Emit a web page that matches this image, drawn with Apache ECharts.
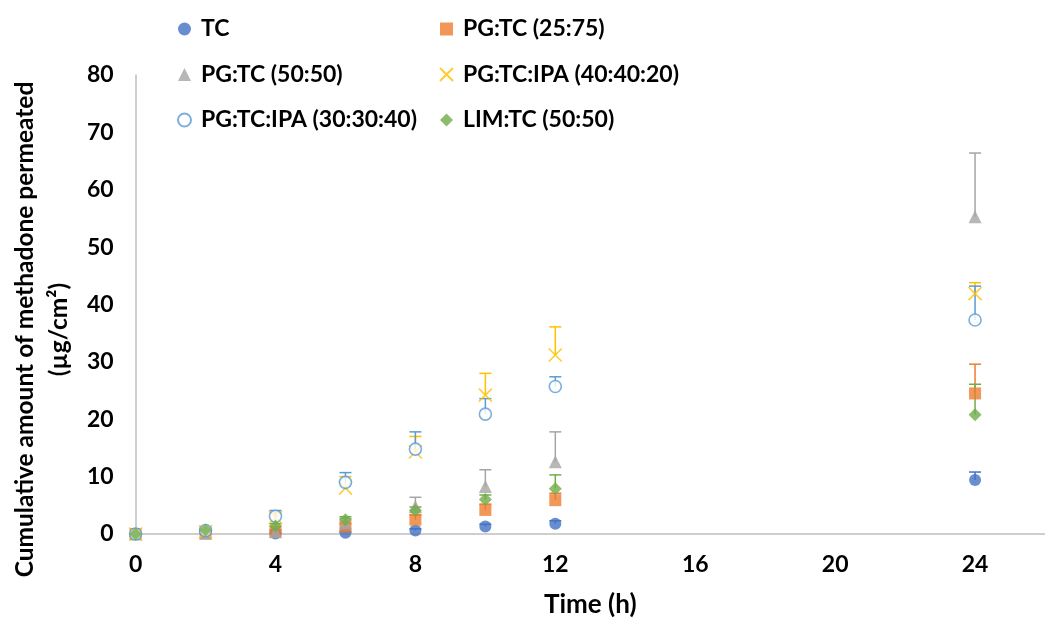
<!DOCTYPE html>
<html>
<head>
<meta charset="utf-8">
<title>Cumulative methadone permeation</title>
<script src="https://cdn.jsdelivr.net/npm/echarts@6/dist/echarts.min.js"></script>
<style>
  html, body { margin: 0; padding: 0; background: #fff; }
  #chart { width: 1045px; height: 623px; }
</style>
</head>
<body>
<div id="chart"></div>
<script>
// Sampling times (h)
const times = [0, 2, 4, 6, 8, 10, 12, 24];
const xTicks = [0, 4, 8, 12, 16, 20, 24];

// Formulation names
const names = [
  'TC',
  'PG:TC (25:75)',
  'PG:TC (50:50)',
  'PG:TC:IPA (40:40:20)',
  'PG:TC:IPA (30:30:40)',
  'LIM:TC (50:50)'
];

// Mean cumulative amount permeated (µg/cm²)
const tc        = [0, 0.3, 0.1, 0.2, 0.6, 1.3, 1.8, 9.4];
const pgTc2575  = [0, 0.2, 0.4, 1.3, 2.5, 4.2, 5.9, 24.5];
const pgTc5050  = [0, 0.1, 0.4, 1.9, 4.8, 8.3, 12.6, 55.3];
const ipa404020 = [0, 0.4, 2.9, 8.0, 14.3, 24.2, 31.2, 41.9];
const ipa303040 = [0, 0.6, 3.1, 9.0, 14.8, 20.9, 25.7, 37.3];
const limTc     = [0, 0.7, 1.4, 2.5, 4.1, 6.0, 7.9, 20.8];

// Standard deviations (upper error bars)
const tcErr        = [0, 0.1, 0.1, 0.2, 0.3, 0.4, 0.5, 1.4];
const pgTc2575Err  = [0, 0.1, 0.2, 0.5, 0.8, 1.0, 1.2, 5.1];
const pgTc5050Err  = [0, 0.1, 0.3, 0.8, 1.6, 2.9, 5.2, 11.1];
const ipa404020Err = [0, 0.2, 0.8, 2.0, 2.7, 3.8, 4.9, 1.9];
const ipa303040Err = [0, 0.2, 1.0, 1.7, 3.0, 2.7, 1.7, 5.9];
const limTcErr     = [0, 0.1, 0.4, 0.5, 0.6, 0.8, 2.4, 5.3];

const colors = ['#4472C4', '#ED7D31', '#A5A5A5', '#FFC000', '#5B9BD5', '#70AD47'];
const means = [tc, pgTc2575, pgTc5050, ipa404020, ipa303040, limTc];
const errs = [tcErr, pgTc2575Err, pgTc5050Err, ipa404020Err, ipa303040Err, limTcErr];

const crossPath = 'path://M0,0L10,10M10,0L0,10';
const symbols = ['circle', 'rect', 'triangle', crossPath, 'circle', 'diamond'];
const sizes = [12, 12, 13, 13, 12, 13];

const FONT = 'Lato, "Open Sans", sans-serif';

function markerStyle(i) {
  if (i === 3) return { color: 'rgba(0,0,0,0)', borderColor: colors[i], borderWidth: 1.6 };
  if (i === 4) return { color: '#ffffff', borderColor: colors[i], borderWidth: 1.6 };
  return { color: colors[i] };
}

function errorBars(i) {
  const color = colors[i];
  return {
    type: 'custom',
    name: names[i] + ' SD',
    silent: true,
    z: 3,
    data: times.map((t, k) => [t, means[i][k], means[i][k] + errs[i][k]]),
    encode: { x: 0, y: [1, 2] },
    renderItem: function (params, api) {
      const lo = api.value(1), hi = api.value(2);
      if (hi - lo <= 0) return null;
      const p0 = api.coord([api.value(0), lo]);
      const p1 = api.coord([api.value(0), hi]);
      const hw = 6;
      const style = { stroke: color, lineWidth: 1.5 };
      return {
        type: 'group',
        children: [
          { type: 'line', shape: { x1: p0[0], y1: p0[1], x2: p1[0], y2: p1[1] }, style: style },
          { type: 'line', shape: { x1: p1[0] - hw, y1: p1[1], x2: p1[0] + hw, y2: p1[1] }, style: style }
        ]
      };
    }
  };
}

const scatterSeries = names.map((n, i) => ({
  type: 'scatter',
  name: n,
  symbol: symbols[i],
  symbolSize: sizes[i],
  itemStyle: markerStyle(i),
  z: 4,
  data: times.map((t, k) => [t, means[i][k]])
}));

const errorSeries = names.map((n, i) => errorBars(i));

const legendText = { fontFamily: FONT, fontWeight: 'bold', fontSize: 23, color: '#000', padding: [0, 0, 0, 5], lineHeight: 26 };

const option = {
  backgroundColor: '#fff',
  animation: false,
  legend: [
    {
      orient: 'vertical', left: 172, top: 11, itemGap: 19.5,
      itemWidth: 13, itemHeight: 13, textStyle: legendText,
      data: [names[0], names[2], names[4]]
    },
    {
      orient: 'vertical', left: 434, top: 11, itemGap: 19.5,
      itemWidth: 13, itemHeight: 13, textStyle: legendText,
      data: [names[1], names[3], names[5]]
    }
  ],
  grid: { left: 129, right: -11, top: 75, bottom: 87, containLabel: false },
  xAxis: {
    type: 'value', min: 0, max: 26, interval: 4,
    name: 'Time (h)', nameLocation: 'middle', nameGap: 58,
    nameTextStyle: { fontFamily: FONT, fontWeight: 'bold', fontSize: 26, color: '#000' },
    axisLine: { show: true, lineStyle: { color: '#BFBFBF', width: 1.5 } },
    axisTick: { show: false },
    splitLine: { show: false },
    axisLabel: {
      fontFamily: FONT, fontWeight: 'bold', fontSize: 23, color: '#000', margin: 19,
      showMaxLabel: false,
      formatter: v => (xTicks.indexOf(v) >= 0 ? String(v) : '')
    }
  },
  yAxis: {
    type: 'value', min: 0, max: 80, interval: 10,
    name: 'Cumulative amount of methadone permeated\n(µg/cm²)',
    nameLocation: 'middle', nameRotate: 90, nameGap: 52,
    nameTextStyle: {
      fontFamily: FONT, fontWeight: 'bold', fontSize: 24.5, color: '#000',
      lineHeight: 34, align: 'center', padding: [0, 50, 0, 0]
    },
    axisLine: { show: true, lineStyle: { color: '#BFBFBF', width: 1.5 } },
    axisTick: { show: false },
    splitLine: { show: false },
    axisLabel: { fontFamily: FONT, fontWeight: 'bold', fontSize: 23, color: '#000', margin: 22 }
  },
  series: scatterSeries.concat(errorSeries)
};

const chart = echarts.init(document.getElementById('chart'), null, { renderer: 'canvas' });
chart.setOption(option);
</script>
</body>
</html>
